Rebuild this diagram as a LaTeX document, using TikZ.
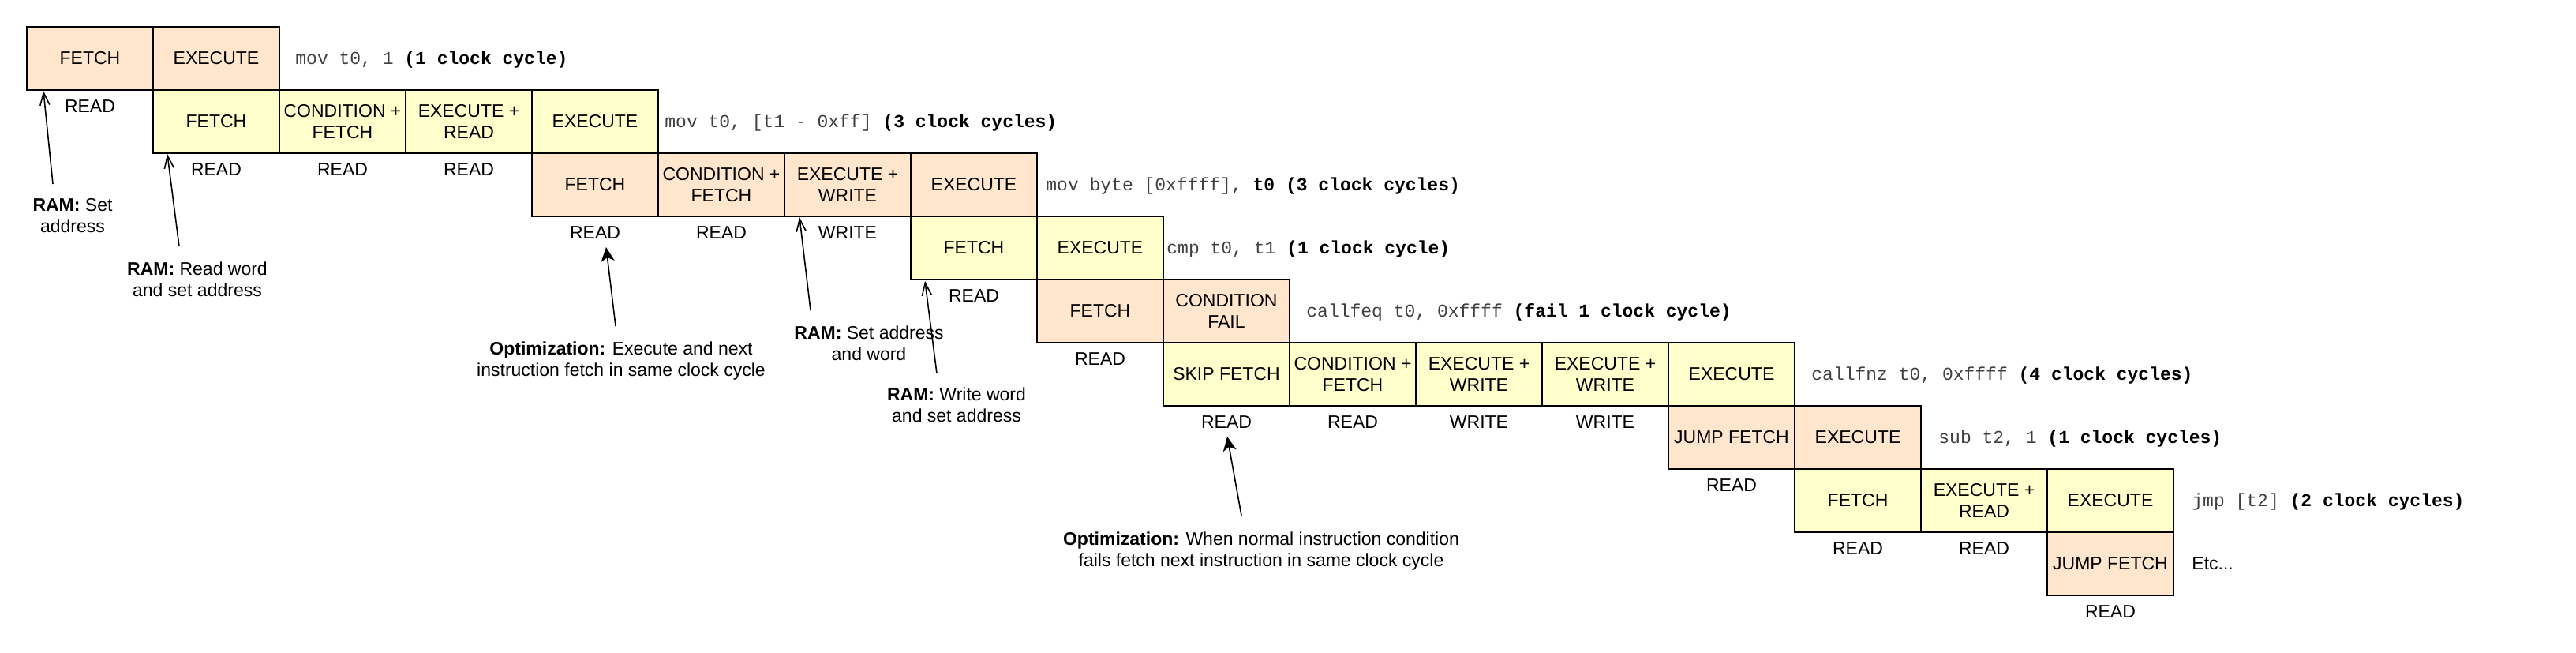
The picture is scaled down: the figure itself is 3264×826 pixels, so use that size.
\documentclass[tikz,border=0pt]{standalone}
\usepackage{fontspec}
\setmainfont{Liberation Sans}
\setmonofont{Liberation Mono}
\usetikzlibrary{arrows.meta}
\definecolor{peach}{HTML}{FFE6CC}
\definecolor{lyellow}{HTML}{FFFFCC}
\definecolor{codegray}{HTML}{404040}
\newcommand{\fs}{\fontsize{11.5pt}{13.5pt}\selectfont}
\tikzset{
  cell/.style={draw=black, line width=1pt, minimum width=80pt, minimum height=40pt,
    inner sep=0pt, align=center, anchor=north west, font=\fs},
  pc/.style={cell, fill=peach},
  yc/.style={cell, fill=lyellow},
  bus/.style={inner sep=0pt, font=\fs},
  code/.style={anchor=base west, inner sep=0pt, font=\ttfamily\fs, text=codegray},
  note/.style={align=center, inner sep=0pt, anchor=north, font=\fs},
  openarrow/.style={-{Straight Barb[length=8pt,width=6pt]}, line width=0.8pt},
  fillarrow/.style={-{Stealth[length=9pt,width=8.5pt,inset=2.5pt]}, line width=0.8pt},
}
\begin{document}
\begin{tikzpicture}[x=0.5pt,y=-0.5pt]
\useasboundingbox (0,0) rectangle (3264,826);
% row 0
\node[pc] (r0a) at (33,33) {FETCH};
\node[pc] (r0b) at (193,33) {EXECUTE};
% row 1
\node[yc] (r1a) at (193,113) {FETCH};
\node[yc] (r1b) at (353,113) {CONDITION +\\FETCH};
\node[yc] (r1c) at (513,113) {EXECUTE +\\READ};
\node[yc] (r1d) at (673,113) {EXECUTE};
% row 2
\node[pc] (r2a) at (673,193) {FETCH};
\node[pc] (r2b) at (833,193) {CONDITION +\\FETCH};
\node[pc] (r2c) at (993,193) {EXECUTE +\\WRITE};
\node[pc] (r2d) at (1153,193) {EXECUTE};
% row 3
\node[yc] (r3a) at (1153,273) {FETCH};
\node[yc] (r3b) at (1313,273) {EXECUTE};
% row 4
\node[pc] (r4a) at (1313,353) {FETCH};
\node[pc] (r4b) at (1473,353) {CONDITION\\FAIL};
% row 5
\node[yc] (r5a) at (1473,433) {SKIP FETCH};
\node[yc] (r5b) at (1633,433) {CONDITION +\\FETCH};
\node[yc] (r5c) at (1793,433) {EXECUTE +\\WRITE};
\node[yc] (r5d) at (1953,433) {EXECUTE +\\WRITE};
\node[yc] (r5e) at (2113,433) {EXECUTE};
% row 6
\node[pc] (r6a) at (2113,513) {JUMP FETCH};
\node[pc] (r6b) at (2273,513) {EXECUTE};
% row 7
\node[yc] (r7a) at (2273,593) {FETCH};
\node[yc] (r7b) at (2433,593) {EXECUTE +\\READ};
\node[yc] (r7c) at (2593,593) {EXECUTE};
% row 8
\node[pc] (r8a) at (2593,673) {JUMP FETCH};

% bus labels
\node[bus] (l0a) at ([yshift=-10pt]r0a.south) {READ};
\node[bus] (l1a) at ([yshift=-10pt]r1a.south) {READ};
\node[bus] (l1b) at ([yshift=-10pt]r1b.south) {READ};
\node[bus] (l1c) at ([yshift=-10pt]r1c.south) {READ};
\node[bus] (l2a) at ([yshift=-10pt]r2a.south) {READ};
\node[bus] (l2b) at ([yshift=-10pt]r2b.south) {READ};
\node[bus] (l2c) at ([yshift=-10pt]r2c.south) {WRITE};
\node[bus] (l3a) at ([yshift=-10pt]r3a.south) {READ};
\node[bus] (l4a) at ([yshift=-10pt]r4a.south) {READ};
\node[bus] (l5a) at ([yshift=-10pt]r5a.south) {READ};
\node[bus] (l5b) at ([yshift=-10pt]r5b.south) {READ};
\node[bus] (l5c) at ([yshift=-10pt]r5c.south) {WRITE};
\node[bus] (l5d) at ([yshift=-10pt]r5d.south) {WRITE};
\node[bus] (l6a) at ([yshift=-10pt]r6a.south) {READ};
\node[bus] (l7a) at ([yshift=-10pt]r7a.south) {READ};
\node[bus] (l7b) at ([yshift=-10pt]r7b.south) {READ};
\node[bus] (l8a) at ([yshift=-10pt]r8a.south) {READ};

% code texts
\node[code] (k0) at (374,81) {mov t0, 1 \textcolor{black}{\bfseries(1 clock cycle)}};
\node[code] (k1) at (842,161) {mov t0, [t1 - 0xff] \textcolor{black}{\bfseries(3 clock cycles)}};
\node[code] (k2) at (1325,241) {mov byte [0xffff], \textcolor{black}{\bfseries t0 (3 clock cycles)}};
\node[code] (k3) at (1478,321) {cmp t0, t1 \textcolor{black}{\bfseries(1 clock cycle)}};
\node[code] (k4) at (1655,401) {callfeq t0, 0xffff \textcolor{black}{\bfseries(fail 1 clock cycle)}};
\node[code] (k5) at (2295,481) {callfnz t0, 0xffff \textcolor{black}{\bfseries(4 clock cycles)}};
\node[code] (k6) at (2456,561) {sub t2, 1 \textcolor{black}{\bfseries(1 clock cycles)}};
\node[code] (k7) at (2777,641) {jmp [t2] \textcolor{black}{\bfseries(2 clock cycles)}};
\node[bus, anchor=base west] (k8) at (2777,721) {Etc...};

% notes
\node[note] (n1) at (92,251) {\textbf{RAM:} Set\\address};
\node[note] (n2) at (250,331) {\textbf{RAM:} Read word\\and set address};
\node[note] (n3) at (787,432) {\textbf{Optimization:} Execute and next\\instruction fetch in same clock cycle};
\node[note] (n4) at (1101,412) {\textbf{RAM:} Set address\\and word};
\node[note] (n5) at (1212,490) {\textbf{RAM:} Write word\\and set address};
\node[note] (n6) at (1598,673) {\textbf{Optimization:} When normal instruction condition\\fails fetch next instruction in same clock cycle};

% arrow end points
\coordinate (t1) at (67,233);   \coordinate (h1) at (55,115);
\coordinate (t2) at (227,312);  \coordinate (h2) at (212,195);
\coordinate (t3) at (780,413);  \coordinate (h3) at (768,313);
\coordinate (t4) at (1027,393); \coordinate (h4) at (1013,275);
\coordinate (t5) at (1187,473); \coordinate (h5) at (1172,356);
\coordinate (t6) at (1573,653); \coordinate (h6) at (1555,553);
\draw[openarrow] (t1) -- (h1);
\draw[openarrow] (t2) -- (h2);
\draw[fillarrow] (t3) -- (h3);
\draw[openarrow] (t4) -- (h4);
\draw[openarrow] (t5) -- (h5);
\draw[fillarrow] (t6) -- (h6);
\end{tikzpicture}
\end{document}
